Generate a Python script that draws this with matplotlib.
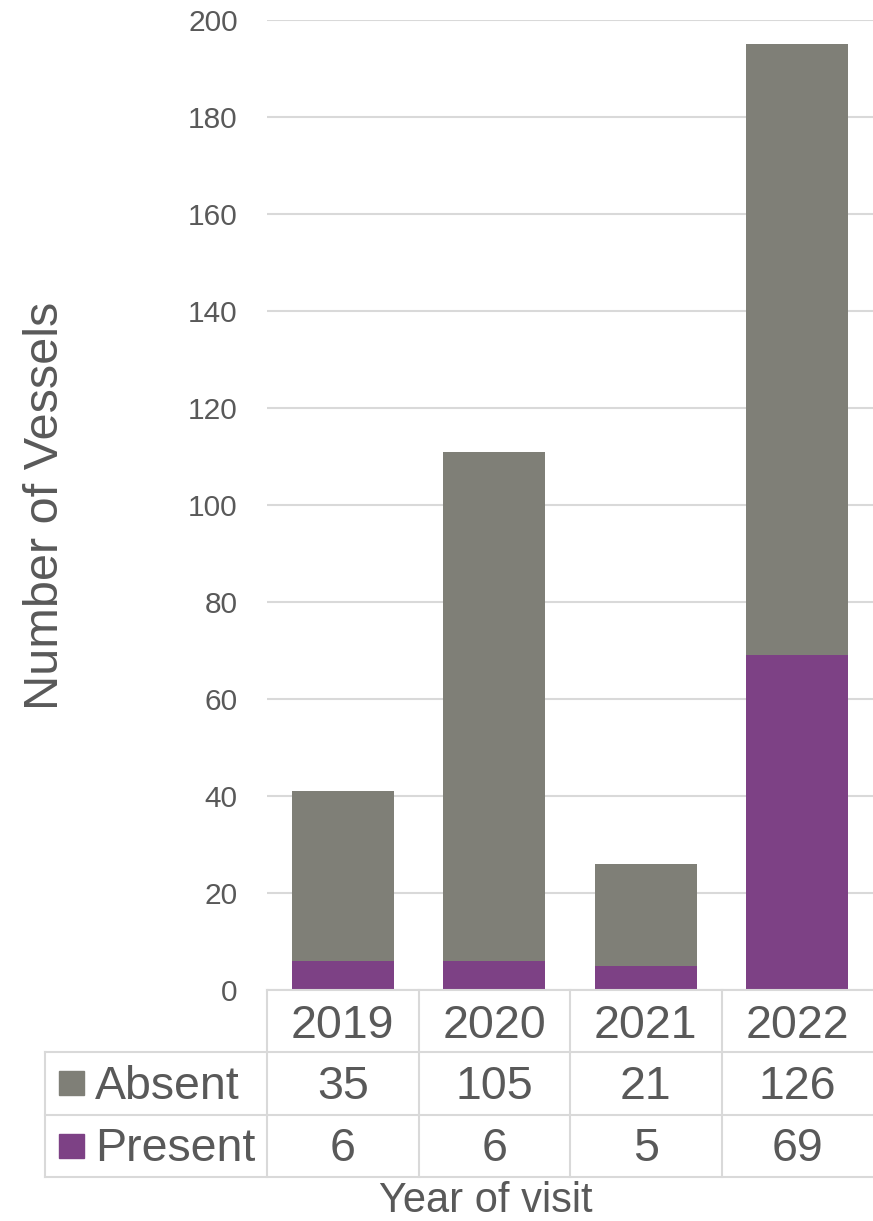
import numpy as np
import matplotlib
matplotlib.use('Agg')
import matplotlib.pyplot as plt
from matplotlib.patches import Rectangle
from matplotlib.lines import Line2D
from matplotlib.transforms import blended_transform_factory

# data
years = ['2019', '2020', '2021', '2022']
absent = [35, 105, 21, 126]
present = [6, 6, 5, 69]
yticks = np.arange(0, 201, 20)

W, H = 873, 1221
grey = '#7f7f77'
purple = '#7d4185'
txt = '#595959'
line_c = '#d9d9d9'

plt.rcParams['font.family'] = ['Liberation Sans', 'DejaVu Sans']

fig = plt.figure(figsize=(W / 100, H / 100), dpi=100)


def fx(p):
    return p / W


def fy(p):
    return 1 - p / H


ax = fig.add_axes([fx(267), fy(990), fx(873) - fx(267), fy(20) - fy(990)])
x = np.arange(len(years))
ax.bar(x, present, width=0.67, color=purple, zorder=2)
ax.bar(x, absent, width=0.67, bottom=present, color=grey, zorder=2)
ax.set_xlim(-0.5, len(years) - 0.5)
ax.set_ylim(0, 200)
ax.set_yticks(yticks)
ax.tick_params(axis='y', length=0, pad=21, labelsize=21.5, labelcolor=txt)
ax.set_xticks([])
for s in ['top', 'right', 'left']:
    ax.spines[s].set_visible(False)
ax.spines['bottom'].set_color(line_c)
ax.spines['bottom'].set_linewidth(1.5)
ax.yaxis.grid(True, color=line_c, linewidth=1.5)
ax.set_axisbelow(True)

# data table below the plot
tr = blended_transform_factory(ax.transData, fig.transFigure)
for xb in [-0.5, 0.5, 1.5, 2.5]:
    fig.add_artist(Line2D([xb, xb], [fy(990), fy(1177)], transform=tr,
                          color=line_c, lw=1.5))
fig.add_artist(Line2D([fx(45), fx(45)], [fy(1052), fy(1177)], color=line_c, lw=1.5))
for yp in [1052, 1115, 1177]:
    fig.add_artist(Line2D([fx(45), 1], [fy(yp), fy(yp)], color=line_c, lw=1.5))

fs = 33.5
for i, yr in enumerate(years):
    fig.text(i, fy(1038), yr, transform=tr, ha='center', va='baseline',
             fontsize=fs, color=txt)
    fig.text(i, fy(1099), str(absent[i]), transform=tr, ha='center', va='baseline',
             fontsize=fs, color=txt)
    fig.text(i, fy(1161), str(present[i]), transform=tr, ha='center', va='baseline',
             fontsize=fs, color=txt)

fig.add_artist(Rectangle((fx(59), fy(1095)), 25 / W, 24 / H, color=grey,
                         transform=fig.transFigure))
fig.add_artist(Rectangle((fx(59), fy(1158)), 25 / W, 24 / H, color=purple,
                         transform=fig.transFigure))
fig.text(fx(95), fy(1099), 'Absent', ha='left', va='baseline', fontsize=fs, color=txt)
fig.text(fx(95), fy(1161), 'Present', ha='left', va='baseline', fontsize=fs, color=txt)

# axis titles
fig.text(fx(46), fy(506), 'Number of Vessels', rotation=90, ha='center', va='center',
         fontsize=35, color=txt)
fig.text(fx(486), fy(1212), 'Year of visit', ha='center', va='baseline',
         fontsize=30, color=txt)

fig.savefig('out.png', dpi=100)
